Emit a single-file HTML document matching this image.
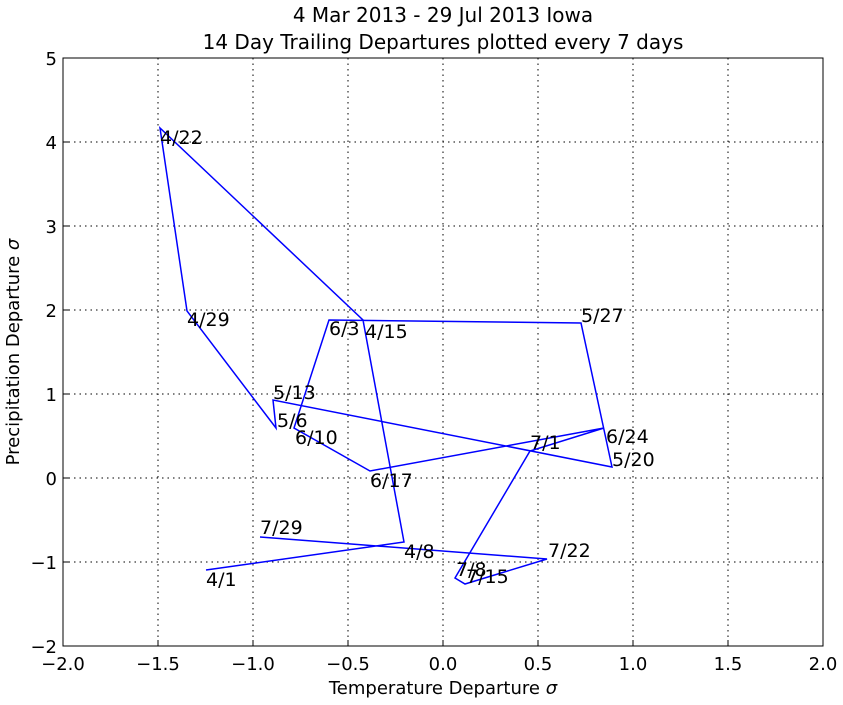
<!DOCTYPE html><html><head><style>body{margin:0;background:#fff}svg text{font-family:"DejaVu Sans","Liberation Sans",sans-serif}</style></head><body>
<svg width="843" height="700" xmlns="http://www.w3.org/2000/svg">
<rect width="843" height="700" fill="#fff"/>
<g stroke="#000" stroke-dasharray="1.5,4" stroke-width="1">
<line x1="158" y1="58" x2="158" y2="646"/><line x1="253" y1="58" x2="253" y2="646"/><line x1="348" y1="58" x2="348" y2="646"/><line x1="443" y1="58" x2="443" y2="646"/><line x1="538" y1="58" x2="538" y2="646"/><line x1="633" y1="58" x2="633" y2="646"/><line x1="728" y1="58" x2="728" y2="646"/>
<line x1="63" y1="142" x2="823" y2="142"/><line x1="63" y1="226" x2="823" y2="226"/><line x1="63" y1="310" x2="823" y2="310"/><line x1="63" y1="394" x2="823" y2="394"/><line x1="63" y1="478" x2="823" y2="478"/><line x1="63" y1="562" x2="823" y2="562"/>
</g>
<polyline fill="none" stroke="#00f" stroke-width="1.5" points="206,570 404,542 363,320 160,128 187,311 276,428 273,400 612,467 581,323 329,320 294,428 370,471 604,428 530,451 455,578 465,584 547,559 260,537"/>
<rect x="63" y="58" width="760" height="588" fill="none" stroke="#000" stroke-width="1"/>
<g stroke="#000"><line x1="63" y1="646" x2="63" y2="640"/><line x1="158" y1="646" x2="158" y2="640"/><line x1="253" y1="646" x2="253" y2="640"/><line x1="348" y1="646" x2="348" y2="640"/><line x1="443" y1="646" x2="443" y2="640"/><line x1="538" y1="646" x2="538" y2="640"/><line x1="633" y1="646" x2="633" y2="640"/><line x1="728" y1="646" x2="728" y2="640"/><line x1="823" y1="646" x2="823" y2="640"/>
<line x1="63" y1="58" x2="69" y2="58"/><line x1="63" y1="142" x2="69" y2="142"/><line x1="63" y1="226" x2="69" y2="226"/><line x1="63" y1="310" x2="69" y2="310"/><line x1="63" y1="394" x2="69" y2="394"/><line x1="63" y1="478" x2="69" y2="478"/><line x1="63" y1="562" x2="69" y2="562"/></g>
<g font-size="18" text-anchor="middle">
<text x="63" y="670">−2.0</text><text x="158" y="670">−1.5</text><text x="253" y="670">−1.0</text><text x="348" y="670">−0.5</text><text x="443" y="670">0.0</text><text x="538" y="670">0.5</text><text x="633" y="670">1.0</text><text x="728" y="670">1.5</text><text x="823" y="670">2.0</text></g>
<g font-size="18" text-anchor="end">
<text x="57" y="65">5</text><text x="57" y="149">4</text><text x="57" y="233">3</text><text x="57" y="317">2</text><text x="57" y="401">1</text><text x="57" y="485">0</text><text x="57" y="569">−1</text><text x="57" y="653">−2</text></g>
<g font-size="20" text-anchor="middle"><text x="443" y="22">4 Mar 2013 - 29 Jul 2013 Iowa</text><text x="443" y="49">14 Day Trailing Departures plotted every 7 days</text></g>
<text x="443" y="694" font-size="18" text-anchor="middle">Temperature Departure <tspan font-style="italic">σ</tspan></text>
<text transform="translate(19,352) rotate(-90)" font-size="18" text-anchor="middle">Precipitation Departure <tspan font-style="italic">σ</tspan></text>
<g font-size="19">
<text x="206" y="586">4/1</text><text x="404" y="558">4/8</text><text x="365" y="338">4/15</text><text x="160" y="144">4/22</text><text x="187" y="326">4/29</text><text x="277" y="427">5/6</text><text x="273" y="399">5/13</text><text x="612" y="466">5/20</text><text x="581" y="322">5/27</text><text x="329" y="335">6/3</text><text x="295" y="444">6/10</text><text x="370" y="487">6/17</text><text x="606" y="443">6/24</text><text x="530" y="449">7/1</text><text x="456" y="576">7/8</text><text x="466" y="583">7/15</text><text x="548" y="557">7/22</text><text x="260" y="534">7/29</text>
</g>
</svg></body></html>
